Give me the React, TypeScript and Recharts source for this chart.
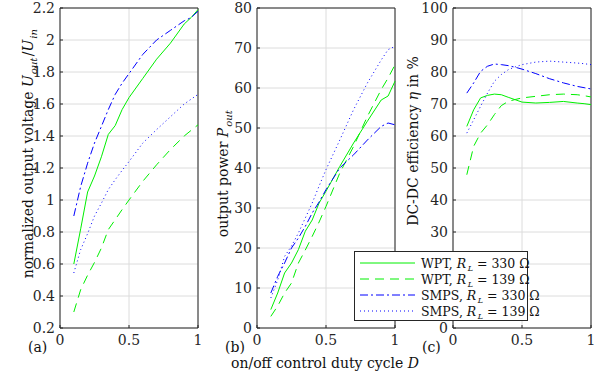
import { CartesianGrid, Line, LineChart, ReferenceArea, XAxis, YAxis } from 'recharts';

const GREEN = '#00f000';
const BLUE = '#0000ff';
const FRAME = '#262626';
const GRID = '#dcdcdc';
const FONT = '"DejaVu Serif", serif';

// duty cycle D (shared x values of all panels)
const DUTY = [0.1, 0.15, 0.2, 0.25, 0.3, 0.35, 0.4, 0.45, 0.5, 0.6, 0.7, 0.8, 0.9, 0.95, 1.0];

// (a) normalized output voltage Uout/Uin
const U_WPT_330 = [0.6, 0.82, 1.05, 1.15, 1.27, 1.41, 1.465, 1.565, 1.64, 1.76, 1.88, 1.98, 2.1, 2.14, 2.19];
const U_WPT_139 = [0.3, 0.44, 0.53, 0.61, 0.7, 0.815, 0.877, 0.94, 1.0, 1.117, 1.22, 1.315, 1.4, 1.435, 1.47];
const U_SMPS_330 = [0.9, 1.085, 1.23, 1.356, 1.46, 1.565, 1.66, 1.73, 1.79, 1.91, 2.0, 2.06, 2.12, 2.14, 2.18];
const U_SMPS_139 = [0.544, 0.69, 0.79, 0.9, 0.98, 1.065, 1.127, 1.185, 1.24, 1.356, 1.44, 1.52, 1.6, 1.63, 1.66];

// (b) output power Pout
const P_WPT_330 = [4.6, 8.75, 13.75, 16.25, 19.6, 24.2, 27, 31.25, 34.2, 40.4, 46.25, 51.7, 57, 58, 61.7];
const P_WPT_139 = [2.9, 5.5, 8.75, 11.25, 16.25, 19.5, 22.9, 26.5, 30.4, 38.75, 45.4, 52.9, 59.6, 62.5, 65.8];
const P_SMPS_330 = [8.75, 12.9, 16.25, 20, 22.5, 25.4, 28.75, 31.5, 34.6, 40, 43.3, 47, 50.4, 51.25, 50.8];
const P_SMPS_139 = [7.5, 12, 17.9, 20.5, 23.75, 27.5, 31.25, 35.5, 39.6, 47, 54.6, 61.25, 67, 69.6, 70.4];

// (c) DC-DC efficiency in %
const E_WPT_330 = [63, 68.2, 71.9, 72.7, 73.1, 72.9, 72.1, 71.35, 70.6, 70.3, 70.5, 70.8, 70.3, 70.1, 69.8];
const E_WPT_139 = [47.9, 56.8, 60.9, 63.5, 66.7, 69.5, 70.8, 71.4, 71.9, 72.4, 72.9, 73.1, 72.9, 72.6, 72.2];
const E_SMPS_330 = [73.4, 76.6, 80.2, 81.8, 82.5, 82.3, 82, 81.5, 80.9, 79.5, 77.9, 76.6, 75.5, 75.1, 74.7];
const E_SMPS_139 = [60.9, 65.1, 69.3, 73.4, 77.1, 79.2, 80.7, 81.6, 82.3, 83.1, 83.4, 83.1, 82.8, 82.6, 82.3];

const X_TICKS = [0, 0.5, 1];
const U_TICKS = [0.2, 0.4, 0.6, 0.8, 1, 1.2, 1.4, 1.6, 1.8, 2, 2.2];
const P_TICKS = [0, 10, 20, 30, 40, 50, 60, 70, 80];
const E_TICKS = [0, 10, 20, 30, 40, 50, 60, 70, 80, 90, 100];
// these tick labels sit under the legend box in the original
const E_HIDDEN = [10, 20];

const SERIES = [
  { key: 'wpt330', name: 'WPT', r: '330', color: GREEN, dash: undefined as string | undefined },
  { key: 'wpt139', name: 'WPT', r: '139', color: GREEN, dash: '9 6' },
  { key: 'smps330', name: 'SMPS', r: '330', color: BLUE, dash: '8 3 2 3' },
  { key: 'smps139', name: 'SMPS', r: '139', color: BLUE, dash: '1 3' },
];

const rows = (a: number[], b: number[], c: number[], d: number[]) =>
  DUTY.map((x, i) => ({ d: x, wpt330: a[i], wpt139: b[i], smps330: c[i], smps139: d[i] }));

const tick = { fill: FRAME, fontSize: 14, fontFamily: FONT };

// MATLAB-like box: inward ticks, grid behind, frame on all four sides
function Panel({ data, left, width, yWidth, domain, ticks, hidden = [] }: any) {
  return (
    <div style={{ position: 'absolute', left, top: 0 }}>
      <LineChart width={width} height={378} data={data} margin={{ top: 8, right: width - yWidth - 138, bottom: 30, left: 0 }}>
        <CartesianGrid stroke={GRID} />
        <XAxis
          dataKey="d"
          type="number"
          domain={[0, 1]}
          ticks={X_TICKS}
          height={20}
          axisLine={false}
          tickLine={{ stroke: FRAME }}
          tickSize={-3}
          tickMargin={10}
          tick={tick}
          interval={0}
        />
        <YAxis
          type="number"
          domain={domain}
          ticks={ticks}
          width={yWidth}
          axisLine={false}
          tickLine={{ stroke: FRAME }}
          tickSize={-3}
          tickMargin={8}
          tick={tick}
          tickFormatter={(v: number) => (hidden.includes(v) ? '' : String(v))}
          interval={0}
        />
        {SERIES.map((s) => (
          <Line
            key={s.key}
            dataKey={s.key}
            type="linear"
            stroke={s.color}
            strokeWidth={1}
            strokeDasharray={s.dash}
            dot={false}
            isAnimationActive={false}
          />
        ))}
        <ReferenceArea x1={0} x2={1} y1={domain[0]} y2={domain[1]} fill="none" stroke={FRAME} strokeWidth={1} />
      </LineChart>
    </div>
  );
}

function Sub({ children }: { children: string }) {
  return (
    <>
      <tspan dx={1} dy={4} fontSize={10} fontStyle="italic">{children}</tspan>
      <tspan dy={-4}>{'\u200a'}</tspan>
    </>
  );
}

export default function App() {
  return (
    <div style={{ position: 'absolute', left: 0, top: 0, width: 608, height: 378, background: '#fff', fontFamily: FONT }}>
      <Panel data={rows(U_WPT_330, U_WPT_139, U_SMPS_330, U_SMPS_139)} left={0} width={208} yWidth={60} domain={[0.2, 2.2]} ticks={U_TICKS} />
      <Panel data={rows(P_WPT_330, P_WPT_139, P_SMPS_330, P_SMPS_139)} left={200} width={204} yWidth={57} domain={[0, 80]} ticks={P_TICKS} />
      <Panel data={rows(E_WPT_330, E_WPT_139, E_SMPS_330, E_SMPS_139)} left={400} width={208} yWidth={53} domain={[0, 100]} ticks={E_TICKS} hidden={E_HIDDEN} />

      <svg width={608} height={378} style={{ position: 'absolute', left: 0, top: 0, pointerEvents: 'none' }} fontFamily={FONT} fill="#111">
        <text transform="translate(33,153) rotate(-90)" textAnchor="middle" fontSize={14}>
          normalized output voltage <tspan fontStyle="italic">U</tspan>
          <Sub>out</Sub>/<tspan fontStyle="italic">U</tspan>
          <Sub>in</Sub>
        </text>
        <text transform="translate(228,173) rotate(-90)" textAnchor="middle" fontSize={14}>
          output power <tspan fontStyle="italic">P</tspan>
          <Sub>out</Sub>
        </text>
        <text transform="translate(418,141) rotate(-90)" textAnchor="middle" fontSize={14}>
          DC-DC efficiency <tspan fontStyle="italic">η</tspan> in %
        </text>
        <text x={325} y={368} textAnchor="middle" fontSize={14}>
          on/off control duty cycle <tspan fontStyle="italic">D</tspan>
        </text>
        <text x={28} y={352} fontSize={14}>(a)</text>
        <text x={225} y={352} fontSize={14}>(b)</text>
        <text x={422} y={352} fontSize={14}>(c)</text>

        <rect x={354.5} y={251.5} width={173} height={69} fill="#fff" stroke={FRAME} />
        {SERIES.map((s, i) => {
          const y = 263 + i * 16;
          return (
            <g key={s.key}>
              <line x1={360} x2={415} y1={y} y2={y} stroke={s.color} strokeDasharray={s.dash} />
              <text x={421} y={y + 4.5} fontSize={12.5}>
                {s.name}, <tspan fontStyle="italic">R</tspan>
                <tspan dx={1.5} dy={3} fontSize={8} fontStyle="italic">L</tspan>
                <tspan dy={-3}> = {s.r} Ω</tspan>
              </text>
            </g>
          );
        })}
      </svg>
    </div>
  );
}
